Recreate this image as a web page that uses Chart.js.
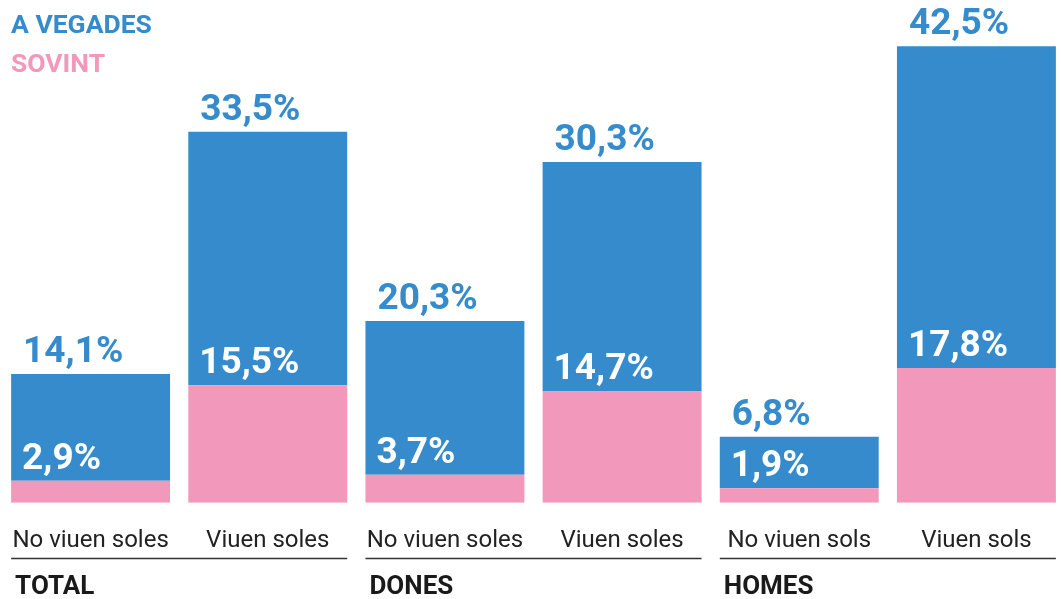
<!DOCTYPE html>
<html>
<head>
<meta charset="utf-8">
<script src="https://cdn.jsdelivr.net/npm/chart.js@4/dist/chart.umd.min.js"></script>
<style>
  html, body { margin: 0; padding: 0; overflow: hidden; background: #fff; }
  #wrap { position: relative; width: 1066px; height: 599px; }
</style>
</head>
<body>
<div id="wrap"><canvas id="chart"></canvas></div>
<script>
const categorias = ['No viuen soles', 'Viuen soles', 'No viuen soles', 'Viuen soles', 'No viuen sols', 'Viuen sols'];
const grupos = ['TOTAL', 'DONES', 'HOMES'];
const aVegades = [14.1, 33.5, 20.3, 30.3, 6.8, 42.5];
const sovint = [2.9, 15.5, 3.7, 14.7, 1.9, 17.8];

const AZUL = '#358bcb';
const ROSA = '#f198bb';
const FONT = 'Roboto, sans-serif';

const fmt = (v) => v.toFixed(1).replace('.', ',') + '%';

const etiquetas = {
  id: 'etiquetas',
  afterDatasetsDraw(chart) {
    const { ctx } = chart;
    const metaRosa = chart.getDatasetMeta(0);
    const metaAzul = chart.getDatasetMeta(1);
    ctx.save();
    ctx.font = 'bold 37px ' + FONT;
    ctx.textBaseline = 'alphabetic';
    ctx.textAlign = 'left';
    metaAzul.data.forEach((bar, i) => {
      const left = bar.x - bar.width / 2;
      ctx.fillStyle = AZUL;
      ctx.fillText(fmt(aVegades[i]), left + 12, bar.y - 12);
      ctx.fillStyle = '#fff';
      ctx.fillText(fmt(sovint[i]), left + 11, metaRosa.data[i].y - 12);
    });
    ctx.restore();
  },
  afterDraw(chart) {
    const { ctx } = chart;
    const meta = chart.getDatasetMeta(1);
    ctx.save();
    // leyenda
    ctx.font = 'bold 26.5px ' + FONT;
    ctx.textAlign = 'left';
    ctx.fillStyle = AZUL;
    ctx.fillText(chart.data.datasets[1].label, 11, 33);
    ctx.fillStyle = ROSA;
    ctx.fillText(chart.data.datasets[0].label, 11, 72);
    // grupos
    grupos.forEach((g, k) => {
      const b1 = meta.data[k * 2];
      const b2 = meta.data[k * 2 + 1];
      const x1 = b1.x - b1.width / 2;
      const x2 = b2.x + b2.width / 2;
      ctx.strokeStyle = '#333';
      ctx.lineWidth = 1.5;
      ctx.beginPath();
      ctx.moveTo(x1, 558.5);
      ctx.lineTo(x2, 558.5);
      ctx.stroke();
      ctx.fillStyle = '#1a1a1a';
      ctx.font = 'bold 26px ' + FONT;
      ctx.fillText(g, x1 + 4, 594);
    });
    ctx.restore();
  },
};

new Chart(document.getElementById('chart'), {
  type: 'bar',
  data: {
    labels: categorias,
    datasets: [
      { label: 'SOVINT', data: sovint, backgroundColor: ROSA },
      { label: 'A VEGADES', data: aVegades, backgroundColor: AZUL },
    ],
  },
  options: {
    responsive: true,
    maintainAspectRatio: false,
    animation: false,
    layout: { padding: { left: 2, right: 1, top: 0, bottom: 0 } },
    datasets: { bar: { categoryPercentage: 1, barPercentage: 0.897, borderWidth: 0 } },
    scales: {
      x: {
        stacked: true,
        grid: { display: false, drawTicks: false },
        border: { display: false },
        ticks: {
          color: '#222',
          font: { family: FONT, size: 24, lineHeight: 3.2 },
          padding: 0, maxRotation: 0, autoSkip: false,
        },
        afterFit: (scale) => { scale.height = 96.3; },
      },
      y: { stacked: true, display: false, min: 0, max: 66.4 },
    },
    plugins: { legend: { display: false }, tooltip: { enabled: false } },
  },
  plugins: [etiquetas],
});
</script>
</body>
</html>
